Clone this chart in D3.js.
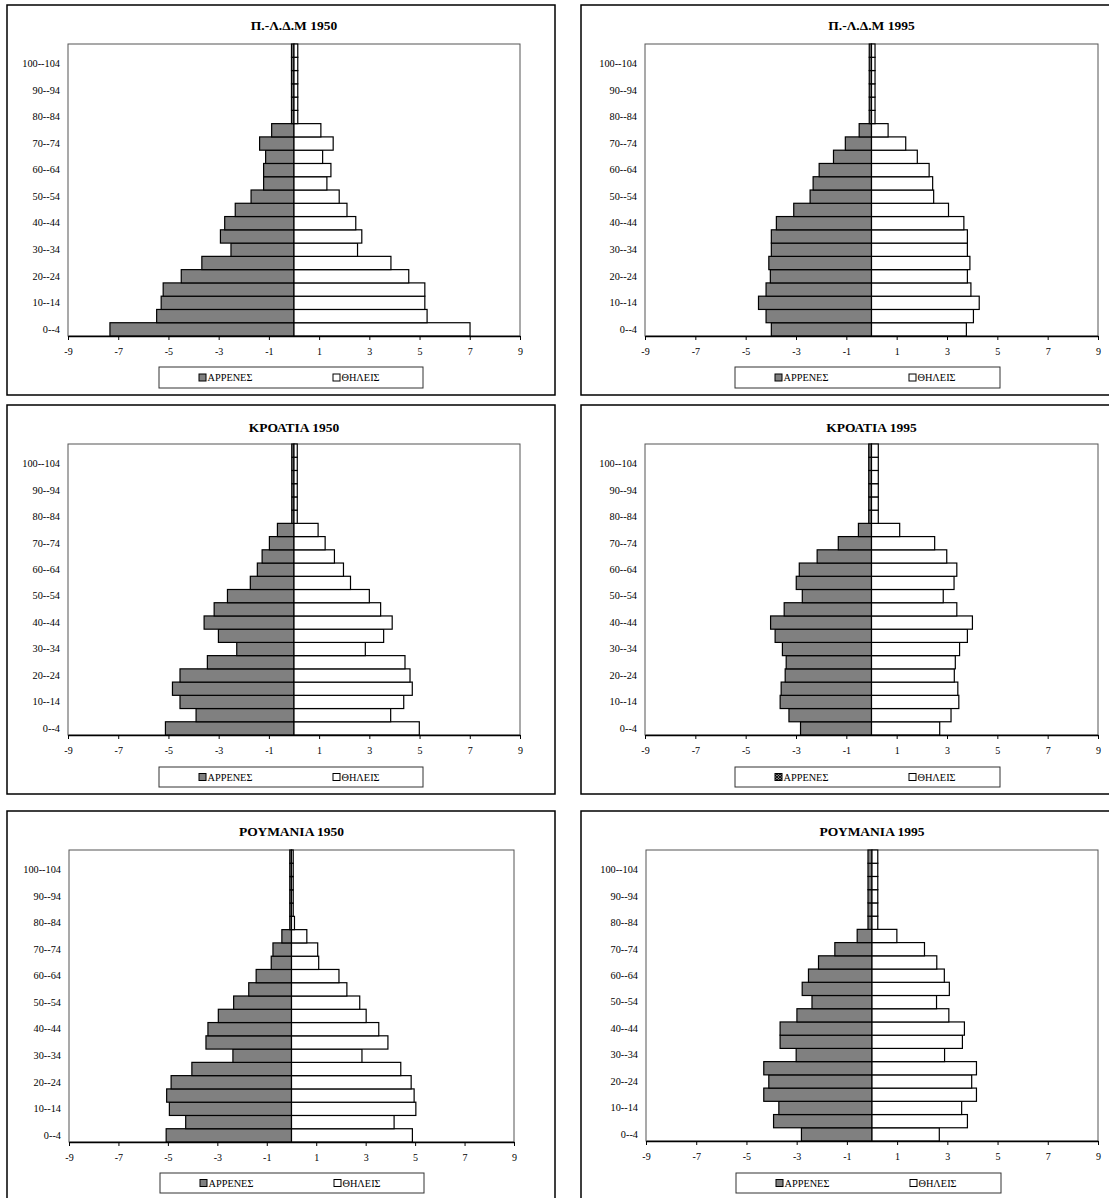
<!DOCTYPE html>
<html>
<head>
<meta charset="utf-8">
<script src="https://cdn.jsdelivr.net/npm/d3@7"></script>
<style>
  html, body { margin: 0; padding: 0; background: #fff; }
  svg { display: block; }
  text { font-family: "Liberation Serif", "Times New Roman", serif; fill: #000; }
</style>
</head>
<body>
<svg id="chart" width="1109" height="1198"></svg>
<script>
// ---------- DATA ----------
const ages = ["0--4","5--9","10--14","15--19","20--24","25--29","30--34","35--39","40--44","45--49",
              "50--54","55--59","60--64","65--69","70--74","75--79","80--84","85--89","90--94","95--99",
              "100--104","105--109"];
const xTicks = [-9,-7,-5,-3,-1,1,3,5,7,9];
const seriesNames = ["ΑΡΡΕΝΕΣ", "ΘΗΛΕΙΣ"];
const titles = ["Π.-Λ.Δ.Μ 1950", "Π.-Λ.Δ.Μ 1995", "ΚΡΟΑΤΙΑ 1950", "ΚΡΟΑΤΙΑ 1995", "ΡΟΥΜΑΝΙΑ 1950", "ΡΟΥΜΑΝΙΑ 1995"];

// percentages (males shown to the left)
const pladm1950Male   = [7.33,5.47,5.29,5.21,4.49,3.67,2.51,2.93,2.76,2.34,1.71,1.21,1.21,1.13,1.37,0.89,0.10,0.10,0.10,0.10,0.10,0.10];
const pladm1950Female = [7.01,5.30,5.21,5.21,4.57,3.86,2.53,2.70,2.46,2.11,1.80,1.31,1.47,1.14,1.56,1.07,0.15,0.15,0.15,0.15,0.15,0.15];
const pladm1995Male   = [3.98,4.19,4.49,4.19,4.02,4.08,3.98,3.98,3.78,3.09,2.44,2.32,2.08,1.51,1.04,0.49,0.09,0.09,0.09,0.09,0.09,0.09];
const pladm1995Female = [3.77,4.05,4.28,3.95,3.81,3.91,3.81,3.81,3.67,3.06,2.47,2.43,2.29,1.82,1.36,0.66,0.14,0.14,0.14,0.14,0.14,0.14];
const croatia1950Male   = [5.12,3.90,4.54,4.84,4.54,3.45,2.28,3.01,3.58,3.18,2.65,1.74,1.46,1.27,0.98,0.66,0.09,0.09,0.09,0.09,0.09,0.09];
const croatia1950Female = [4.99,3.85,4.37,4.71,4.62,4.42,2.84,3.57,3.91,3.45,3.00,2.25,1.97,1.61,1.24,0.96,0.13,0.13,0.13,0.13,0.13,0.13];
const croatia1995Male   = [2.82,3.28,3.63,3.59,3.43,3.39,3.54,3.83,4.01,3.47,2.75,2.99,2.87,2.16,1.32,0.52,0.11,0.11,0.11,0.11,0.11,0.11];
const croatia1995Female = [2.71,3.16,3.47,3.43,3.29,3.33,3.50,3.81,4.01,3.39,2.85,3.28,3.39,2.99,2.51,1.12,0.27,0.27,0.27,0.27,0.27,0.27];
const romania1950Male   = [5.07,4.28,4.94,5.05,4.87,4.03,2.37,3.46,3.38,2.96,2.34,1.73,1.43,0.82,0.75,0.39,0.07,0.07,0.07,0.07,0.07,0.07];
const romania1950Female = [4.89,4.15,5.03,4.96,4.84,4.42,2.85,3.90,3.53,3.02,2.76,2.24,1.92,1.10,1.06,0.62,0.12,0.07,0.07,0.07,0.07,0.07];
const romania1995Male   = [2.81,3.92,3.71,4.31,4.11,4.31,3.02,3.66,3.66,2.99,2.39,2.78,2.53,2.13,1.48,0.59,0.16,0.16,0.16,0.16,0.16,0.16];
const romania1995Female = [2.68,3.80,3.57,4.16,3.97,4.16,2.89,3.60,3.68,3.06,2.57,3.08,2.88,2.58,2.09,0.99,0.23,0.23,0.23,0.23,0.23,0.23];

const maleSeries   = [pladm1950Male, pladm1995Male, croatia1950Male, croatia1995Male, romania1950Male, romania1995Male];
const femaleSeries = [pladm1950Female, pladm1995Female, croatia1950Female, croatia1995Female, romania1950Female, romania1995Female];

// ---------- LAYOUT ----------
const layouts = [
  {box:{x:7,  y:5,   w:548, h:390}, plot:{l:68,  r:520,  t:44,  b:336},  titleY:30,  legend:{x:159, y:367,  w:264, h:21}},
  {box:{x:581,y:5,   w:560, h:390}, plot:{l:645, r:1098, t:44,  b:336},  titleY:30,  legend:{x:735, y:367,  w:265, h:21}},
  {box:{x:7,  y:405, w:548, h:389}, plot:{l:68,  r:520,  t:444, b:735},  titleY:432, legend:{x:159, y:767,  w:264, h:20}},
  {box:{x:581,y:405, w:560, h:389}, plot:{l:645, r:1098, t:444, b:735},  titleY:432, legend:{x:735, y:767,  w:265, h:20}, hatch:true},
  {box:{x:7,  y:811, w:548, h:420}, plot:{l:69,  r:514,  t:850, b:1142}, titleY:836, legend:{x:160, y:1173, w:264, h:20}},
  {box:{x:581,y:811, w:560, h:420}, plot:{l:646, r:1098, t:850, b:1141}, titleY:836, legend:{x:736, y:1173, w:265, h:20}}
];

const svg = d3.select("#chart");
const defs = svg.append("defs");
const pat = defs.append("pattern").attr("id","hatch").attr("patternUnits","userSpaceOnUse")
  .attr("width",3).attr("height",3);
pat.append("rect").attr("width",3).attr("height",3).attr("fill","#808080");
pat.append("path").attr("d","M0,0L3,3M3,0L0,3").attr("stroke","#000").attr("stroke-width",0.8);

const maleFill = "#808080";

layouts.forEach((L, i) => {
  const g = svg.append("g");
  // outer frame
  g.append("rect").attr("x",L.box.x).attr("y",L.box.y).attr("width",L.box.w).attr("height",L.box.h)
    .attr("fill","#fff").attr("stroke","#000").attr("stroke-width",1.5);

  const x = d3.scaleLinear().domain([-9, 9]).range([L.plot.l, L.plot.r]);
  const y = d3.scaleBand().domain(ages.slice().reverse()).range([L.plot.t, L.plot.b]).paddingInner(0).paddingOuter(0);

  // plot area
  g.append("rect").attr("x",L.plot.l).attr("y",L.plot.t).attr("width",L.plot.r-L.plot.l).attr("height",L.plot.b-L.plot.t)
    .attr("fill","#fff").attr("stroke","#555").attr("stroke-width",1);

  // title
  g.append("text").attr("x",(L.plot.l+L.plot.r)/2).attr("y",L.titleY).attr("text-anchor","middle")
    .attr("font-size",13.5).attr("font-weight","bold").text(titles[i]);

  const males = maleSeries[i], females = femaleSeries[i];
  // male bars
  g.append("g").selectAll("rect").data(ages).join("rect")
    .attr("x", (d,k) => x(-males[k]))
    .attr("y", d => y(d))
    .attr("width", (d,k) => x(0) - x(-males[k]))
    .attr("height", y.bandwidth())
    .attr("fill", maleFill).attr("stroke","#000").attr("stroke-width",1.2);
  // female bars
  g.append("g").selectAll("rect").data(ages).join("rect")
    .attr("x", x(0))
    .attr("y", d => y(d))
    .attr("width", (d,k) => x(females[k]) - x(0))
    .attr("height", y.bandwidth())
    .attr("fill", "#fff").attr("stroke","#000").attr("stroke-width",1.2);

  // x axis
  const xa = g.append("g").attr("transform",`translate(0,${L.plot.b})`)
    .call(d3.axisBottom(x).tickValues(xTicks).tickSize(4).tickSizeOuter(0).tickFormat(d3.format("d")));
  xa.select(".domain").attr("stroke","#000").attr("stroke-width",1.5);
  xa.selectAll(".tick line").attr("stroke","#000").attr("stroke-width",1);
  xa.selectAll(".tick text").attr("font-size",10).attr("font-family","Liberation Serif, serif").attr("dy","1.2em")
    .text(d => d < 0 ? "-" + Math.abs(d) : d);

  // y axis labels
  const ya = g.append("g").attr("transform",`translate(${L.plot.l},0)`)
    .call(d3.axisLeft(y).tickValues(ages.filter((d,k) => k % 2 === 0 && k < 21)).tickSize(0).tickPadding(8));
  ya.select(".domain").remove();
  ya.selectAll(".tick text").attr("font-size",10.3).attr("font-family","Liberation Serif, serif");

  // legend
  const lg = g.append("g");
  lg.append("rect").attr("x",L.legend.x).attr("y",L.legend.y).attr("width",L.legend.w).attr("height",L.legend.h)
    .attr("fill","#fff").attr("stroke","#333").attr("stroke-width",1);
  const cy = L.legend.y + L.legend.h/2;
  const items = [
    {name: seriesNames[0], fill: L.hatch ? "url(#hatch)" : maleFill, dx: 40},
    {name: seriesNames[1], fill: "#fff", dx: 174}
  ];
  items.forEach(it => {
    lg.append("rect").attr("x",L.legend.x+it.dx).attr("y",cy-3.5).attr("width",7).attr("height",7)
      .attr("fill",it.fill).attr("stroke","#000").attr("stroke-width",1);
    lg.append("text").attr("x",L.legend.x+it.dx+8.5).attr("y",cy+3.5).attr("font-size",10.3).text(it.name);
  });
});
</script>
</body>
</html>
